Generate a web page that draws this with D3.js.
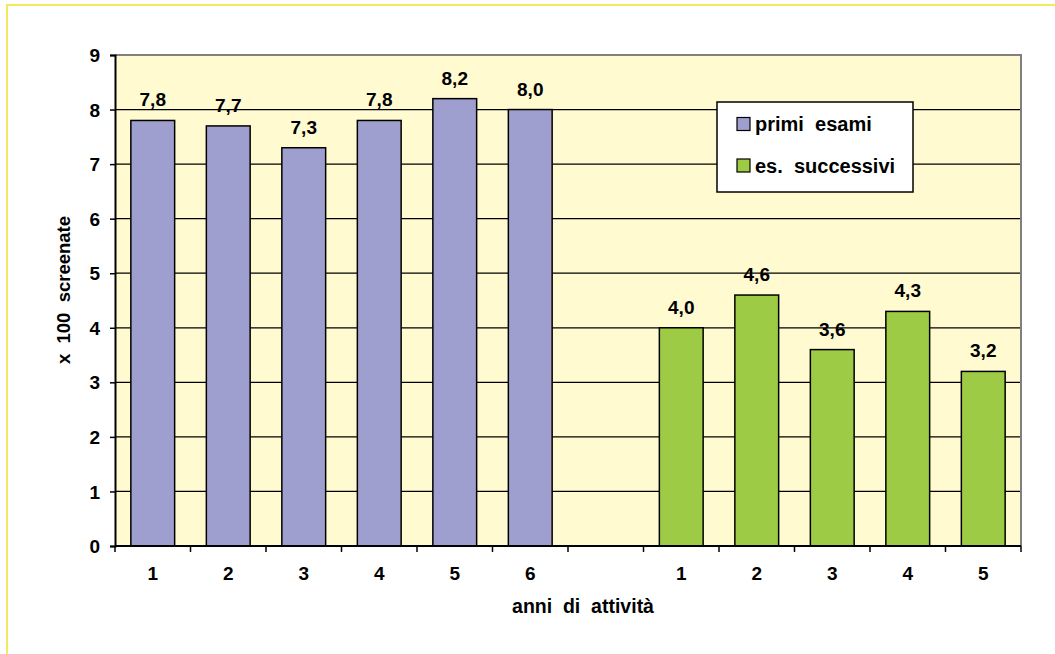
<!DOCTYPE html>
<html>
<head>
<meta charset="utf-8">
<script src="https://cdn.jsdelivr.net/npm/d3@7/dist/d3.min.js"></script>
<style>
  html, body { margin: 0; padding: 0; background: #ffffff; }
  svg text { font-family: Arial, "Liberation Sans", sans-serif; font-weight: bold; fill: #000; white-space: pre; }
</style>
</head>
<body>
<svg id="chart" width="1055" height="654"></svg>
<script>
// Screenings per year of activity (hundreds), two groups separated by an empty slot
const slotKeys = ["p1", "p2", "p3", "p4", "p5", "p6", "gap", "s1", "s2", "s3", "s4", "s5"];
const slotLabels = ["1", "2", "3", "4", "5", "6", "", "1", "2", "3", "4", "5"];
const primiKeys = ["p1", "p2", "p3", "p4", "p5", "p6"];
const primiValues = [7.8, 7.7, 7.3, 7.8, 8.2, 8.0];
const successiviKeys = ["s1", "s2", "s3", "s4", "s5"];
const successiviValues = [4.0, 4.6, 3.6, 4.3, 3.2];
const yTicks = [0, 1, 2, 3, 4, 5, 6, 7, 8, 9];
const seriesNames = ["primi  esami", "es.  successivi"];
const seriesColors = ["#9f9fcf", "#9dcb45"];

const svg = d3.select("#chart");
const plot = { left: 115, right: 1021, top: 55, bottom: 546 };

// outer frame
svg.append("rect")
  .attr("x", 7).attr("y", 5).attr("width", 1100).attr("height", 700)
  .attr("fill", "none").attr("stroke", "#f2ea5c").attr("stroke-width", 2);

const x = d3.scaleBand()
  .domain(slotKeys)
  .range([plot.left, plot.right])
  .paddingInner(0.42)
  .paddingOuter(0.21);

const y = d3.scaleLinear().domain([0, 9]).range([plot.bottom, plot.top]);

// plot background
svg.append("rect")
  .attr("x", plot.left).attr("y", plot.top)
  .attr("width", plot.right - plot.left).attr("height", plot.bottom - plot.top)
  .attr("fill", "#fffad0");

// grid lines
svg.append("g").selectAll("line")
  .data(yTicks.filter(v => v > 0 && v < 9))
  .join("line")
  .attr("x1", plot.left).attr("x2", plot.right)
  .attr("y1", d => y(d)).attr("y2", d => y(d))
  .attr("stroke", "#000").attr("stroke-width", 1.2);

// top and right border of plot area
svg.append("path")
  .attr("d", `M${plot.left},${y(9)}H${plot.right}V${plot.bottom}`)
  .attr("fill", "none").attr("stroke", "#808080").attr("stroke-width", 2);

// bars
const series = [
  { keys: primiKeys, values: primiValues, color: seriesColors[0] },
  { keys: successiviKeys, values: successiviValues, color: seriesColors[1] }
];
const fmt = v => d3.format(".1f")(v).replace(".", ",");

series.forEach(s => {
  const data = s.keys.map((k, i) => ({ key: k, value: s.values[i] }));
  svg.append("g").selectAll("rect")
    .data(data)
    .join("rect")
    .attr("x", d => x(d.key))
    .attr("y", d => y(d.value))
    .attr("width", x.bandwidth())
    .attr("height", d => y(0) - y(d.value))
    .attr("fill", s.color)
    .attr("stroke", "#000").attr("stroke-width", 1.5);
  svg.append("g").selectAll("text")
    .data(data)
    .join("text")
    .attr("x", d => x(d.key) + x.bandwidth() / 2)
    .attr("y", d => y(d.value) - 14)
    .attr("text-anchor", "middle")
    .attr("font-size", 19)
    .text(d => fmt(d.value));
});

// y axis
const yAxis = svg.append("g")
  .attr("transform", `translate(${plot.left},0)`)
  .call(d3.axisLeft(y).tickValues(yTicks).tickSize(5).tickPadding(10).tickFormat(d3.format("d")));
yAxis.select(".domain").attr("stroke", "#000").attr("stroke-width", 2);
yAxis.selectAll(".tick line").attr("stroke", "#000").attr("stroke-width", 1.5);
yAxis.selectAll(".tick text")
  .attr("font-size", 19).attr("font-family", "Arial, 'Liberation Sans', sans-serif")
  .attr("font-weight", "bold").attr("fill", "#000").attr("dy", "0.35em");

// x axis: baseline, boundary ticks, slot labels
const step = x.step();
const boundaries = d3.range(slotKeys.length + 1).map(i => plot.left + i * step);
svg.append("line")
  .attr("x1", plot.left).attr("x2", plot.right)
  .attr("y1", y(0)).attr("y2", y(0))
  .attr("stroke", "#000").attr("stroke-width", 2);
svg.append("g").selectAll("line")
  .data(boundaries)
  .join("line")
  .attr("x1", d => d).attr("x2", d => d)
  .attr("y1", y(0)).attr("y2", y(0) + 6)
  .attr("stroke", "#000").attr("stroke-width", 1.5);
svg.append("g").selectAll("text")
  .data(slotKeys.map((k, i) => ({ key: k, label: slotLabels[i] })))
  .join("text")
  .attr("x", d => x(d.key) + x.bandwidth() / 2)
  .attr("y", 580)
  .attr("text-anchor", "middle")
  .attr("font-size", 19)
  .text(d => d.label);

// axis titles
svg.append("text")
  .attr("x", 583).attr("y", 613)
  .attr("text-anchor", "middle")
  .attr("font-size", 19.5)
  .text("anni  di  attività");
svg.append("text")
  .attr("transform", "translate(70,290) rotate(-90)")
  .attr("text-anchor", "middle")
  .attr("font-size", 18.5)
  .text("x  100  screenate");

// legend
const legend = svg.append("g");
legend.append("rect")
  .attr("x", 717).attr("y", 102).attr("width", 196).attr("height", 90)
  .attr("fill", "#ffffff").attr("stroke", "#000").attr("stroke-width", 1.5);
seriesNames.forEach((name, i) => {
  const cy = 124 + i * 41.5;
  legend.append("rect")
    .attr("x", 737).attr("y", cy - 6.5).attr("width", 13).attr("height", 13)
    .attr("fill", seriesColors[i]).attr("stroke", "#000").attr("stroke-width", 1.2);
  legend.append("text")
    .attr("x", 755).attr("y", cy + 7)
    .attr("font-size", 20)
    .text(name);
});
</script>
</body>
</html>
